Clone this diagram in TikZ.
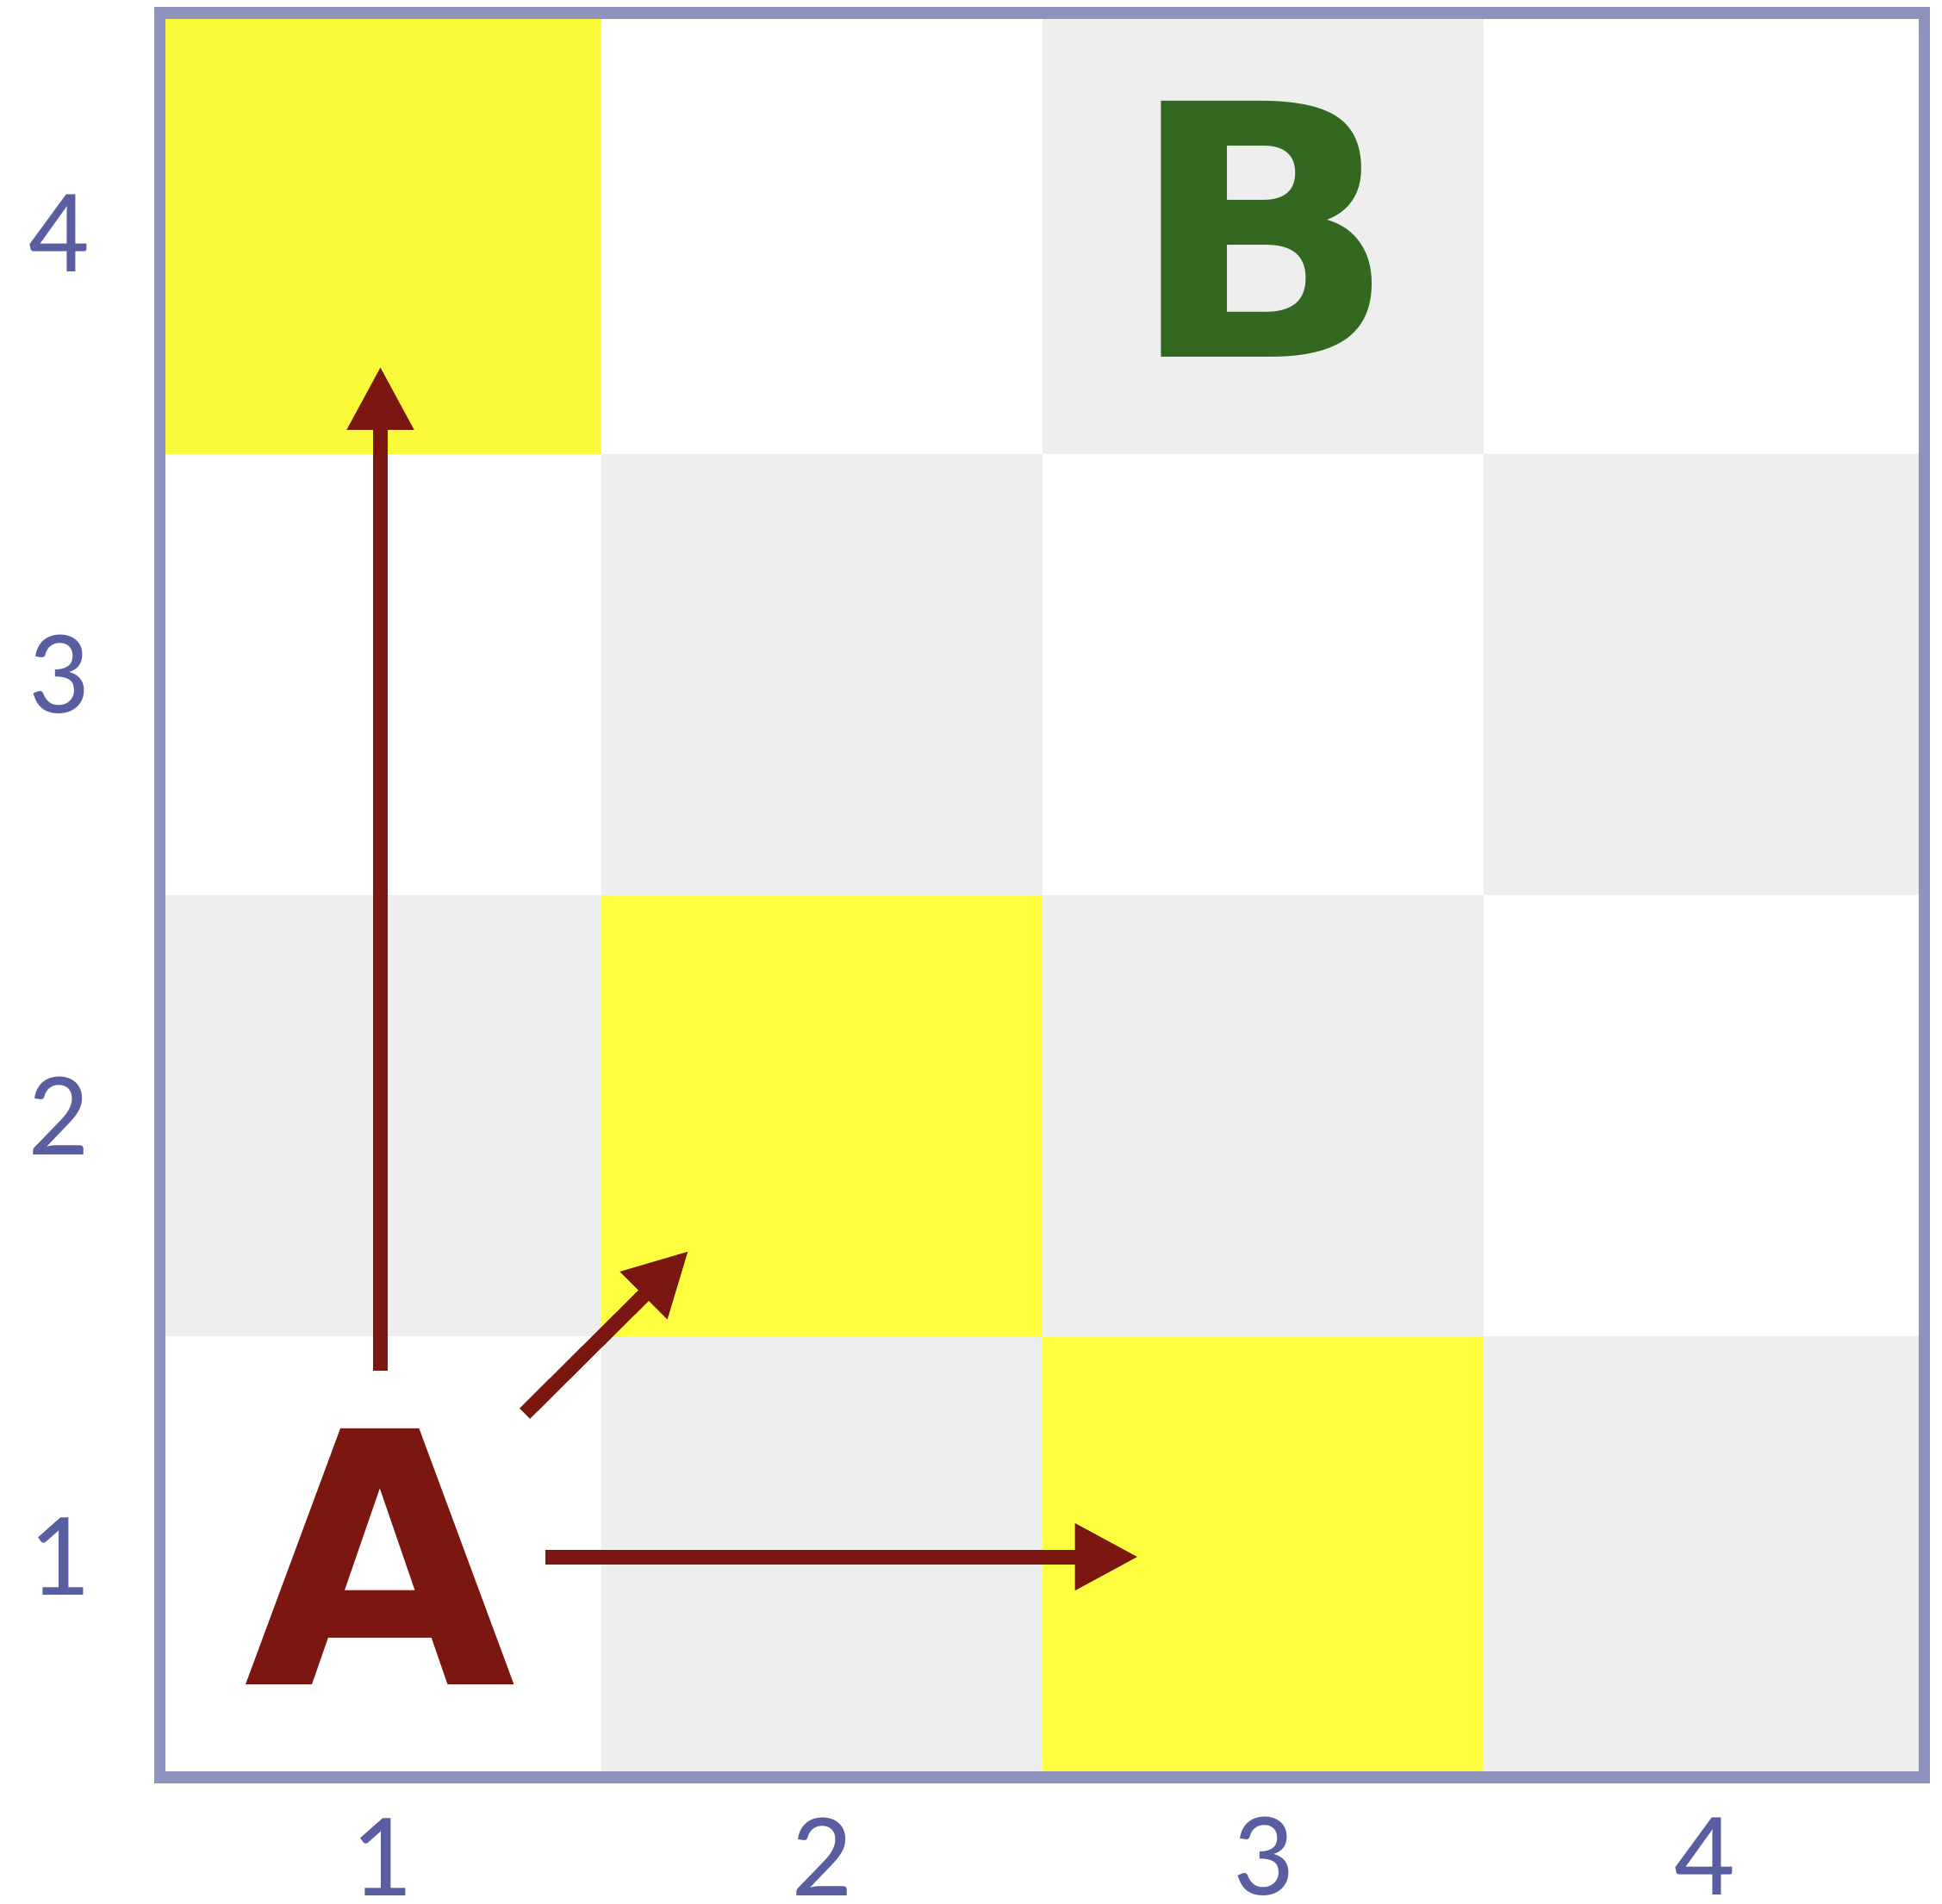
\documentclass[tikz,border=0pt]{standalone}
\usepackage{fontspec}
\setmainfont{Carlito}
\newfontfamily\piecefont{DejaVu Sans}
\usetikzlibrary{arrows.meta}
\definecolor{gridframe}{RGB}{144,146,190}
\definecolor{axisnum}{RGB}{88,94,160}
\definecolor{cellgrey}{RGB}{238,238,238}
\definecolor{hilite}{RGB}{255,255,0}
\definecolor{apiece}{RGB}{123,22,16}
\definecolor{bpiece}{RGB}{50,104,32}

\begin{document}
\begin{tikzpicture}[
  move/.style={-{Triangle[length=2.87mm, width=2.85mm]}, line width=1.9pt, draw=apiece},
  coord/.style={font=\fontsize{15.5}{18}\selectfont, text=axisnum, inner sep=0pt},
  piece/.style={font=\piecefont\fontsize{45.3}{54}\selectfont\bfseries, inner sep=0pt},
]
  \useasboundingbox (-0.7246,-0.5723) rectangle (8.080,8.0586);
  % checkerboard
  \foreach \c in {1,...,4} {
    \foreach \r in {1,...,4} {
      \pgfmathparse{int(mod(\c+\r,2))}
      \ifnum\pgfmathresult=1
        \fill[cellgrey] ({2*\c-2},{2*\r-2}) rectangle ++(2,2);
      \fi
    }
  }
  % reachable cells
  \foreach \c/\r in {1/4,2/2,3/1}
    \fill[hilite, fill opacity=0.75] ({2*\c-2},{2*\r-2}) rectangle ++(2,2);
  \draw[gridframe, line width=1.5pt] (0,0) rectangle (8,8);
  % axis numbers
  \foreach \i in {1,...,4} {
    \node[coord] (col\i) at ({2*\i-1},-0.36) {\i};
    \node[coord] (row\i) at (-0.461,{2*\i-1}) {\i};
  }
  \node[piece, text=apiece, minimum width=1.48cm, minimum height=1.672cm] (A) at (1,1) {A};
  \node[piece, text=bpiece] (B) at (5,7.02) {B};
  \coordinate (tipN) at (1,6.397);
  \coordinate (tipE) at (4.436,1);
  \coordinate (tipNE) at (2.397,2.387);
  \draw[move] (A) -- (tipN);
  \draw[move] (A) -- (tipE);
  \draw[move, shorten <=-0.13cm] (A) -- (tipNE);
\end{tikzpicture}
\end{document}
